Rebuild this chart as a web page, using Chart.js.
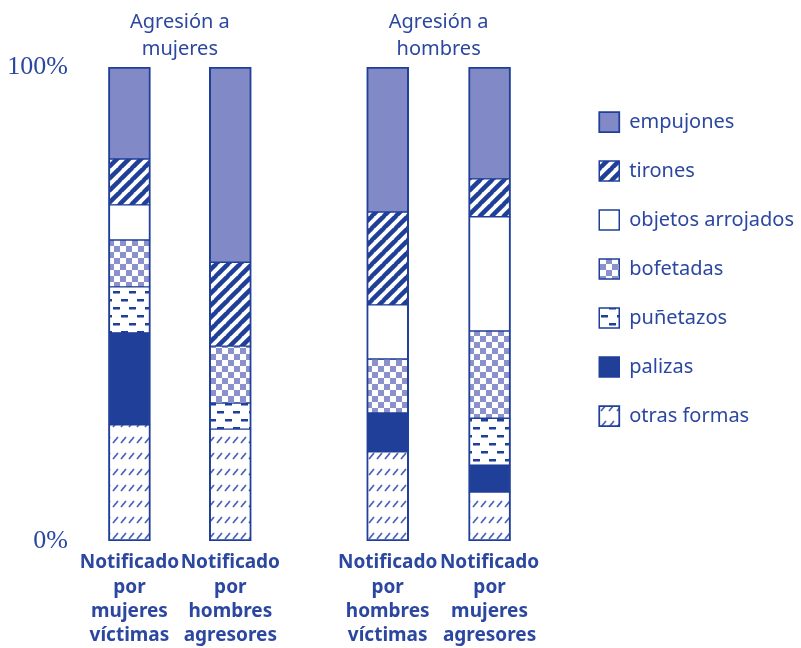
<!DOCTYPE html>
<html>
<head>
<meta charset="utf-8">
<script src="https://cdn.jsdelivr.net/npm/chart.js@4"></script>
<style>
  html, body { margin: 0; padding: 0; background: #fff; }
</style>
</head>
<body>
<canvas id="grafica" width="801" height="648"></canvas>
<script>
'use strict'

// DATOS: porcentaje de cada forma de agresión en cada barra
const barras = [
  ['Notificado', 'por', 'mujeres', 'víctimas'],
  ['Notificado', 'por', 'hombres', 'agresores'],
  ['Notificado', 'por', 'hombres', 'víctimas'],
  ['Notificado', 'por', 'mujeres', 'agresores']
];
const grupos = [['Agresión a', 'mujeres'], ['Agresión a', 'hombres']];

const otrasFormas      = [24.5, 23.6, 18.8, 10.3];
const palizas          = [19.4,  0.0,  8.2,  5.7];
const punetazos        = [ 9.7,  5.5,  0.0,  9.9];
const bofetadas        = [ 9.9, 12.0, 11.4, 18.4];
const objetosArrojados = [ 7.4,  0.0, 11.4, 24.1];
const tirones          = [ 9.7, 17.7, 19.6,  8.0];
const empujones        = [19.4, 41.2, 30.6, 23.6];

const ticksY = [0, 100];

// DISPOSICIÓN: posición de cada barra en el eje x (los dos grupos van separados)
const posicionBarras = [0, 1, 2.56, 3.57];

const AZUL = '#1f3f99';
const LILA = '#8189c6';
const TEXTO = '#2b47a0';

const ctx = document.getElementById('grafica').getContext('2d');

// PATRONES DE RELLENO
function patron(w, h, dibujar) {
  const c = document.createElement('canvas');
  c.width = w;
  c.height = h;
  const g = c.getContext('2d');
  g.fillStyle = '#fff';
  g.fillRect(0, 0, w, h);
  dibujar(g);
  return ctx.createPattern(c, 'repeat');
}

const rayas = patron(12, 12, g => {
  g.strokeStyle = AZUL;
  g.lineWidth = 4.5;
  for (let k = -1; k <= 1; k++) {
    g.beginPath();
    g.moveTo(k * 12 - 1, 13);
    g.lineTo(k * 12 + 13, -1);
    g.stroke();
  }
});

const cuadros = patron(12, 12, g => {
  g.fillStyle = '#8a91cb';
  g.fillRect(0, 0, 6, 6);
  g.fillRect(6, 6, 6, 6);
});

const guiones = patron(16, 16, g => {
  g.fillStyle = AZUL;
  g.fillRect(1, 3, 7, 2.5);
  g.fillRect(9, 11, 7, 2.5);
});

const rayitas = patron(8, 16, g => {
  g.strokeStyle = '#4d63b8';
  g.lineWidth = 1.8;
  g.beginPath();
  g.moveTo(1, 11);
  g.lineTo(6, 5);
  g.stroke();
});

function serie(nombre, valores, relleno, borde) {
  return {
    label: nombre,
    data: valores.map((v, i) => ({ x: posicionBarras[i], y: v })),
    backgroundColor: relleno,
    borderColor: AZUL,
    borderWidth: borde || { left: 2, right: 2, top: 1, bottom: 1 },
    borderSkipped: false,
    barThickness: 42
  };
}

const centrosGrupos = [
  (posicionBarras[0] + posicionBarras[1]) / 2,
  (posicionBarras[2] + posicionBarras[3]) / 2
];

const X_MIN = -0.5;
const X_MAX = 4.37;

// quita el margen que el eje x reserva para la primera y la última etiqueta
function sinMargen(s) {
  s.paddingLeft = 0;
  s.paddingRight = 0;
}

// el margen izquierdo negativo deja más ancho disponible para la leyenda;
// el eje y lo compensa con su propio ancho
const MARGEN_IZQ = -160;

new Chart(ctx, {
  type: 'bar',
  data: {
    datasets: [
      serie('otras formas', otrasFormas, rayitas, { left: 2, right: 2, top: 1, bottom: 2 }),
      serie('palizas', palizas, AZUL),
      serie('puñetazos', punetazos, guiones),
      serie('bofetadas', bofetadas, cuadros),
      serie('objetos arrojados', objetosArrojados, '#ffffff'),
      serie('tirones', tirones, rayas),
      serie('empujones', empujones, LILA, { left: 2, right: 2, top: 2, bottom: 1 })
    ]
  },
  options: {
    responsive: false,
    animation: false,
    layout: { padding: { left: MARGEN_IZQ, right: -3, top: 4, bottom: 0 } },
    scales: {
      x: {
        type: 'linear',
        stacked: true,
        offset: false,
        min: X_MIN,
        max: X_MAX,
        grid: { display: false, offset: false },
        border: { display: false },
        afterBuildTicks: s => { s.ticks = posicionBarras.map(v => ({ value: v })); },
        afterFit: s => { s.height = 107; sinMargen(s); },
        ticks: {
          autoSkip: false,
          maxRotation: 0,
          padding: 2,
          color: TEXTO,
          font: { family: 'Noto Sans', size: 19, weight: 'bold', lineHeight: 1.27 },
          callback: (v, i) => barras[i]
        }
      },
      arriba: {
        type: 'linear',
        position: 'top',
        offset: false,
        min: X_MIN,
        max: X_MAX,
        grid: { display: false },
        border: { display: false },
        afterBuildTicks: s => { s.ticks = centrosGrupos.map(v => ({ value: v })); },
        afterFit: s => { s.height = 63; sinMargen(s); },
        ticks: {
          autoSkip: false,
          maxRotation: 0,
          padding: -3,
          color: TEXTO,
          font: { family: 'Noto Sans', size: 20, lineHeight: 1.32 },
          callback: (v, i) => grupos[i]
        }
      },
      y: {
        stacked: true,
        min: 0,
        max: 100,
        grid: { display: false },
        border: { display: false },
        afterBuildTicks: s => { s.ticks = ticksY.map(v => ({ value: v })); },
        afterFit: s => { s.width = 79 - MARGEN_IZQ; },
        ticks: {
          padding: 3,
          color: TEXTO,
          font: { family: 'Liberation Serif', size: 26 },
          callback: v => v + '%'
        }
      }
    },
    plugins: {
      tooltip: { enabled: false },
      legend: {
        position: 'right',
        align: 'start',
        reverse: true,
        title: {
          display: true,
          text: '',
          font: { size: 10, lineHeight: 1 },
          padding: { top: 69, bottom: 0 }
        },
        labels: {
          boxWidth: 20,
          boxHeight: 20,
          padding: 29,
          color: TEXTO,
          font: { family: 'Noto Sans', size: 20 }
        }
      }
    }
  }
});
</script>
</body>
</html>
